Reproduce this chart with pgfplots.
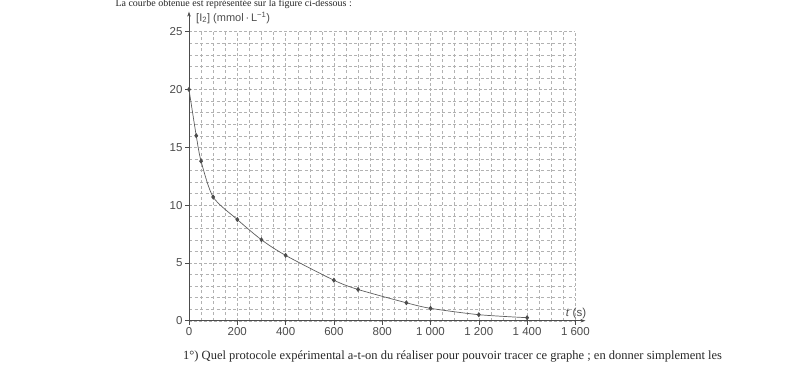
\documentclass[border=0pt]{standalone}
\usepackage{fontspec}
\setmainfont{Liberation Sans}
\newfontfamily\serifnote{Liberation Serif}
\usepackage{pgfplots}
\pgfplotsset{compat=1.18}
\usetikzlibrary{arrows.meta}
\definecolor{ink}{gray}{0.3}
\definecolor{gridc}{gray}{0.7}
\begin{document}
\begin{tikzpicture}[x=1pt,y=1pt]
\path[use as bounding box] (0,0) rectangle (800,364);
\begin{axis}[
  at={(189pt,43.3pt)}, anchor=south west,
  x=0.2415pt, y=11.56pt,
  xmin=0, xmax=1600, ymin=0, ymax=25,
  axis lines=left,
  axis line style={ink, line width=0.6pt, -{Stealth[length=5pt,width=3.5pt]}},
  x axis line style={shorten >=-10pt},
  y axis line style={shorten >=-20pt},
  clip=false,
  xtick={0,200,...,1600},
  xticklabels={0,200,400,600,800,{1 000},{1 200},{1 400},{1 600}},
  ytick={0,5,...,25},
  yticklabels={0,5,10,15,20,25},
  minor x tick num=3,
  minor y tick num=4,
  grid=both,
  major grid style={gridc, line width=0.4pt, dash pattern=on 3pt off 2pt},
  minor grid style={gridc, line width=0.35pt, dash pattern=on 3pt off 2.5pt},
  tick align=outside,
  major tick length=4pt,
  minor tick length=0pt,
  tick style={ink, line width=0.5pt},
  ticklabel style={text=ink, font=\fontsize{11.5}{13}\selectfont},
  xticklabel style={yshift=1pt},
  yticklabel style={xshift=1pt},
]
\addplot[ink!90, line width=0.7pt, smooth, tension=0.45,
  mark=diamond*, mark size=2pt, mark options={fill=ink, draw=ink}]
  coordinates {
  (0,20) (30,16.0) (50,13.8) (100,10.7) (200,8.75) (300,7.0)
  (400,5.65) (600,3.5) (700,2.7) (900,1.55) (1000,1.07)
  (1200,0.52) (1400,0.26)
  };
\node[anchor=west, text=ink, font=\fontsize{11}{13}\selectfont, inner sep=0pt]
  at (axis cs:0,26.2) [xshift=7pt] {[I\textsubscript{2}] (mmol\,·\,L\textsuperscript{−1})};
\node[anchor=south west, text=ink, font=\fontsize{11.5}{13}\selectfont, inner sep=0pt]
  at (axis cs:1560,0) [yshift=2pt] {\textit{t} (s)};
\end{axis}
\node[anchor=base east, text=black!85, font=\serifnote\fontsize{10}{12}\selectfont, inner sep=0pt]
  at (352,357.5) {La courbe obtenue est représentée sur la figure ci-dessous :};
\node[anchor=base west, text=black!85, font=\serifnote\fontsize{12.5}{14}\selectfont, inner sep=0pt]
  at (183,5) {1°) Quel protocole expérimental a-t-on du réaliser pour pouvoir tracer ce graphe ; en donner simplement les};
\end{tikzpicture}
\end{document}
